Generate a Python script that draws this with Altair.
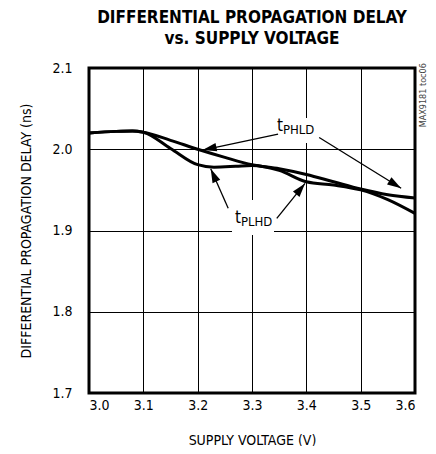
import math
import altair as alt
import pandas as pd

FONT = "Liberation Sans Narrow, DejaVu Sans Condensed, Arial Narrow, sans-serif"

# --- data ---
phld_x = [3.00, 3.05, 3.08, 3.10, 3.15, 3.20, 3.25, 3.30, 3.35, 3.40, 3.45, 3.50, 3.55, 3.60]
phld_y = [2.020, 2.022, 2.0225, 2.021, 2.011, 2.000, 1.990, 1.981, 1.976, 1.969, 1.960, 1.951, 1.944, 1.940]

plhd_x = [3.00, 3.05, 3.08, 3.10, 3.15, 3.20, 3.23, 3.27, 3.30, 3.35, 3.40, 3.45, 3.50, 3.55, 3.60]
plhd_y = [2.020, 2.022, 2.0225, 2.021, 2.001, 1.981, 1.978, 1.979, 1.980, 1.974, 1.960, 1.956, 1.950, 1.938, 1.921]

x_ticks = [3.0, 3.1, 3.2, 3.3, 3.4, 3.5, 3.6]
y_ticks = [1.7, 1.8, 1.9, 2.0, 2.1]

# annotations (data units)
label_names = ["PHLD", "PLHD"]
label_x = [3.346, 3.2687]
label_y = [2.0225, 1.9092]
box_x1 = [3.3405, 3.2632]
box_x2 = [3.4178, 3.3405]
box_y1 = [2.0385, 1.9375]
box_y2 = [2.0077, 1.8945]

arrow_x_tail = [3.348, 3.4236, 3.2562, 3.3456]
arrow_y_tail = [2.0187, 2.0145, 1.9273, 1.9150]
arrow_x_tip = [3.2092, 3.5745, 3.2240, 3.3976]
arrow_y_tip = [1.9990, 1.9520, 1.9760, 1.9580]

W, H = 326, 325
XD = [3.0, 3.6]
YD = [1.7, 2.1]
sx = W / (XD[1] - XD[0])
sy = H / (YD[1] - YD[0])

curves = pd.concat([
    pd.DataFrame({"v": phld_x, "d": phld_y, "s": "PHLD"}),
    pd.DataFrame({"v": plhd_x, "d": plhd_y, "s": "PLHD"}),
])

arrows = pd.DataFrame({"x": arrow_x_tail, "y": arrow_y_tail,
                       "x2": arrow_x_tip, "y2": arrow_y_tip})
angles = []
for xa, ya, xb, yb in zip(arrow_x_tail, arrow_y_tail, arrow_x_tip, arrow_y_tip):
    dx = (xb - xa) * sx
    dys = -(yb - ya) * sy
    angles.append(math.degrees(math.atan2(dx, -dys)) % 360)
arrows["ang"] = angles

labels = pd.DataFrame({"x": label_x, "y": label_y, "sub": label_names, "t": "t"})
boxes = pd.DataFrame({"x": box_x1, "x2": box_x2, "y": box_y1, "y2": box_y2})
note = pd.DataFrame({"x": [3.615], "y": [2.106], "txt": ["MAX9181 toc06"]})

xs = alt.Scale(domain=XD, nice=False, zero=False)
ys = alt.Scale(domain=YD, nice=False, zero=False)

xax = alt.Axis(values=x_ticks, format=".1f", title="SUPPLY VOLTAGE (V)",
               labelPadding=5, titlePadding=21)
yax = alt.Axis(values=y_ticks, format=".1f", title="DIFFERENTIAL PROPAGATION DELAY (ns)",
               labelPadding=17, titlePadding=18)

base_lines = alt.Chart(curves).mark_line(
    color="black", strokeWidth=3, interpolate="monotone"
).encode(
    x=alt.X("v:Q", scale=xs, axis=xax),
    y=alt.Y("d:Q", scale=ys, axis=yax),
    detail="s:N",
)

box_layer = alt.Chart(boxes).mark_rect(color="white").encode(
    x=alt.X("x:Q", scale=xs), x2="x2:Q",
    y=alt.Y("y:Q", scale=ys), y2="y2:Q",
)

rule_layer = alt.Chart(arrows).mark_rule(color="black", strokeWidth=1.3).encode(
    x=alt.X("x:Q", scale=xs), y=alt.Y("y:Q", scale=ys), x2="x2:Q", y2="y2:Q",
)

head_layer = alt.Chart(arrows).mark_point(
    shape="M0,0 L-0.6,2 L0.6,2 Z", filled=True, color="black", opacity=1,
    size=196, strokeWidth=0,
).encode(
    x=alt.X("x2:Q", scale=xs), y=alt.Y("y2:Q", scale=ys),
    angle=alt.Angle("ang:Q", scale=None),
)

t_layer = alt.Chart(labels).mark_text(
    font=FONT, fontSize=17, align="left", baseline="alphabetic", color="black"
).encode(x=alt.X("x:Q", scale=xs), y=alt.Y("y:Q", scale=ys), text="t:N")

sub_layer = alt.Chart(labels).mark_text(
    font=FONT, fontSize=13, align="left", baseline="alphabetic", color="black",
    dx=6, dy=3,
).encode(x=alt.X("x:Q", scale=xs), y=alt.Y("y:Q", scale=ys), text="sub:N")

note_layer = alt.Chart(note).mark_text(
    font=FONT, fontSize=9, align="right", baseline="middle", angle=270, color="#444444"
).encode(x=alt.X("x:Q", scale=xs), y=alt.Y("y:Q", scale=ys), text="txt:N")

chart = alt.layer(
    box_layer, base_lines, rule_layer, head_layer, t_layer, sub_layer, note_layer
).properties(
    width=W, height=H,
    background="white",
    title=alt.TitleParams(
        text=["DIFFERENTIAL PROPAGATION DELAY", "vs. SUPPLY VOLTAGE"],
        font=FONT, fontSize=17, fontWeight="bold", lineHeight=21,
        anchor="middle", offset=13, color="black",
    ),
    autosize=alt.AutoSizeParams(type="none"),
    padding={"left": 81, "top": 60, "right": 13, "bottom": 53},
).configure_view(
    stroke="black", strokeWidth=3
).configure_axis(
    grid=True, gridColor="black", gridWidth=1, gridOpacity=1,
    domain=False, ticks=False,
    labelFont=FONT, labelFontSize=14, labelColor="black",
    titleFont=FONT, titleFontSize=14, titleFontWeight="normal", titleColor="black",
)

chart.save("out.html", embed_options={"renderer": "svg", "actions": False})
